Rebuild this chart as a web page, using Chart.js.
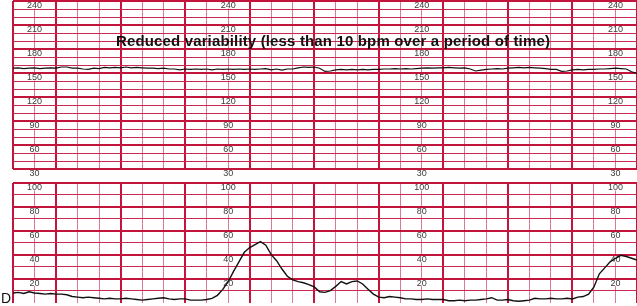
<!DOCTYPE html>
<html lang="en">
<head>
    <meta charset="UTF-8">
    <title>Reduced variability</title>
    <style>
        * {
            margin: 0;
            padding: 0;
            box-sizing: border-box;
        }

        body {
            background: #fff;
            width: 637px;
            height: 306px;
            overflow: hidden;
            position: relative;
            font-family: 'Liberation Sans', Arial, sans-serif;
        }

        #fhr-chart {
            position: absolute;
            left: 0;
            top: 0;
        }

        #uc-chart {
            position: absolute;
            left: 0;
            top: 176px;
        }

        .title {
            position: absolute;
            left: 0;
            top: 32px;
            width: 666px;
            text-align: center;
            font-size: 15px;
            letter-spacing: 0.15px;
            font-weight: bold;
            color: #111;
        }

        .mark {
            position: absolute;
            left: 1px;
            top: 290px;
            font-size: 14px;
            color: #111;
        }
    </style>
</head>
<body>
    <canvas id="fhr-chart" width="637" height="180"></canvas>
    <canvas id="uc-chart" width="637" height="130"></canvas>
    <div class="title">Reduced variability (less than 10 bpm over a period of time)</div>
    <div class="mark">D</div>

    <script src="https://cdn.jsdelivr.net/npm/chart.js"></script>
    <script>
        // one sample every 5 seconds, 0 .. 580 s
        const sampleStep = 5;

        // fetal heart rate, bpm
        const fhrValues = [
            156, 156.5, 155.5, 156, 156.5, 155.5, 156, 156.5, 156, 157.5,
            157.5, 156, 156, 155, 154.5, 156, 155.5, 157, 156.5, 157,
            156.5, 157.5, 156.5, 157, 156.5, 156, 156, 155.5, 156, 155,
            155, 154, 155, 154.5, 155, 154.5, 155, 154, 155, 154.5,
            155, 154.5, 155, 154.5, 155, 154.5, 155, 155.5, 154, 155,
            153.5, 155, 155, 156.5, 157.5, 157, 157.5, 156, 152, 152.5,
            154, 154.5, 154, 154.5, 154, 154.5, 154, 154.5, 154.5, 155,
            155, 155.5, 155, 155.5, 155, 155.5, 156, 156.5, 156, 156.5,
            156.5, 157, 156.5, 156, 156.5, 155, 152.5, 153.5, 154.5, 155,
            155.5, 155, 156, 156.5, 157, 156.5, 157, 156.5, 156, 155.5,
            154.5, 154.5, 152, 152.5, 154, 154.5, 154, 154.5, 154.5, 155,
            155, 155.5, 156, 155.5, 155, 151.5, 149.5
        ];

        // uterine contractions
        const ucValues = [
            8, 8.5, 7.5, 9, 8, 7.5, 7, 7.5, 7, 7,
            6.5, 5, 4.5, 4, 4.5, 4, 3.5, 3, 3.5, 3,
            3, 3.5, 3, 2.5, 2, 2.5, 3, 3.5, 4, 3,
            2.5, 3, 3, 2, 2, 2, 2.5, 3.5, 6, 11,
            17.5, 26, 34, 42, 46, 48.5, 51, 48, 40, 35,
            28, 22, 19, 17.5, 16.5, 15, 13, 9, 8.5, 10,
            13.5, 17.5, 15.5, 17.5, 18, 15.5, 11, 7, 4.5, 4,
            5, 4.5, 4, 3, 3, 2.5, 2.5, 3, 2.5, 2.5,
            2.5, 1.5, 1.5, 2, 1.5, 2, 2, 2.5, 3, 4,
            2, 2, 2.5, 1.5, 1, 1.5, 2, 3.5, 3, 3,
            3.5, 3, 3, 3.5, 3, 4.5, 5, 7, 13, 24,
            29, 34, 37, 39.5, 38.5, 37, 35.5
        ];

        const fhrTicks = [240, 210, 180, 150, 120, 90, 60, 30];
        const ucTicks = [100, 80, 60, 40, 20];
        const labelTimes = [20, 200, 380, 560];

        const times = fhrValues.map((v, i) => i * sampleStep);

        const thickLine = '#c4143c';
        const thinHoriz = '#c9284f';
        const thinVert = '#db7a92';

        // scale labels printed on the paper, a few columns across
        const paperLabels = {
            id: 'paperLabels',
            beforeDatasetsDraw(chart, args, opts) {
                const ctx = chart.ctx;
                const x = chart.scales.x;
                const y = chart.scales.y;
                ctx.save();
                ctx.font = '9px "Liberation Sans", Arial, sans-serif';
                ctx.textAlign = 'center';
                ctx.textBaseline = 'middle';
                opts.times.forEach(t => {
                    const px = x.getPixelForValue(t);
                    opts.values.forEach(v => {
                        const py = y.getPixelForValue(v) + 4.5;
                        const text = String(v);
                        const w = ctx.measureText(text).width;
                        ctx.fillStyle = '#fff';
                        ctx.fillRect(px - w / 2 - 1, py - 3, w + 2, 6);
                        ctx.fillStyle = '#3a3a3a';
                        ctx.fillText(text, px, py);
                    });
                });
                ctx.restore();
            }
        };

        function timeAxis() {
            return {
                type: 'linear',
                min: 0,
                max: 580,
                ticks: { display: false, stepSize: 20 },
                border: { display: false },
                grid: {
                    drawTicks: false,
                    color: c => ((c.tick.value - 40) % 60 === 0 || c.tick.value === 0) ? thickLine : thinVert,
                    lineWidth: c => ((c.tick.value - 40) % 60 === 0 || c.tick.value === 0) ? 2 : 1
                }
            };
        }

        function valueAxis(min, max, major) {
            return {
                min: min,
                max: max,
                ticks: { display: false, stepSize: 10 },
                border: { display: false },
                grid: {
                    drawTicks: false,
                    color: c => c.tick.value === 0 ? 'rgba(0,0,0,0)' : (c.tick.value % major === 0 ? thickLine : thinHoriz),
                    lineWidth: c => c.tick.value % major === 0 ? 2 : 1
                }
            };
        }

        function makeChart(id, values, yAxis, padding, tickValues, width) {
            return new Chart(document.getElementById(id), {
                type: 'line',
                data: {
                    datasets: [{
                        data: times.map((t, i) => ({ x: t, y: values[i] })),
                        borderColor: '#111',
                        borderWidth: width,
                        pointRadius: 0,
                        tension: 0,
                        fill: false
                    }]
                },
                options: {
                    responsive: false,
                    animation: false,
                    layout: { padding: padding },
                    plugins: {
                        legend: { display: false },
                        tooltip: { enabled: false },
                        paperLabels: { times: labelTimes, values: tickValues }
                    },
                    scales: {
                        x: timeAxis(),
                        y: yAxis
                    }
                },
                plugins: [paperLabels]
            });
        }

        makeChart('fhr-chart', fhrValues, valueAxis(30, 240, 30),
            { left: 13, top: 1, right: 0, bottom: 11 }, fhrTicks, 1.2);
        makeChart('uc-chart', ucValues, valueAxis(0, 100, 20),
            { left: 13, top: 7, right: 0, bottom: 3.5 }, ucTicks, 1.4);
    </script>
</body>
</html>
